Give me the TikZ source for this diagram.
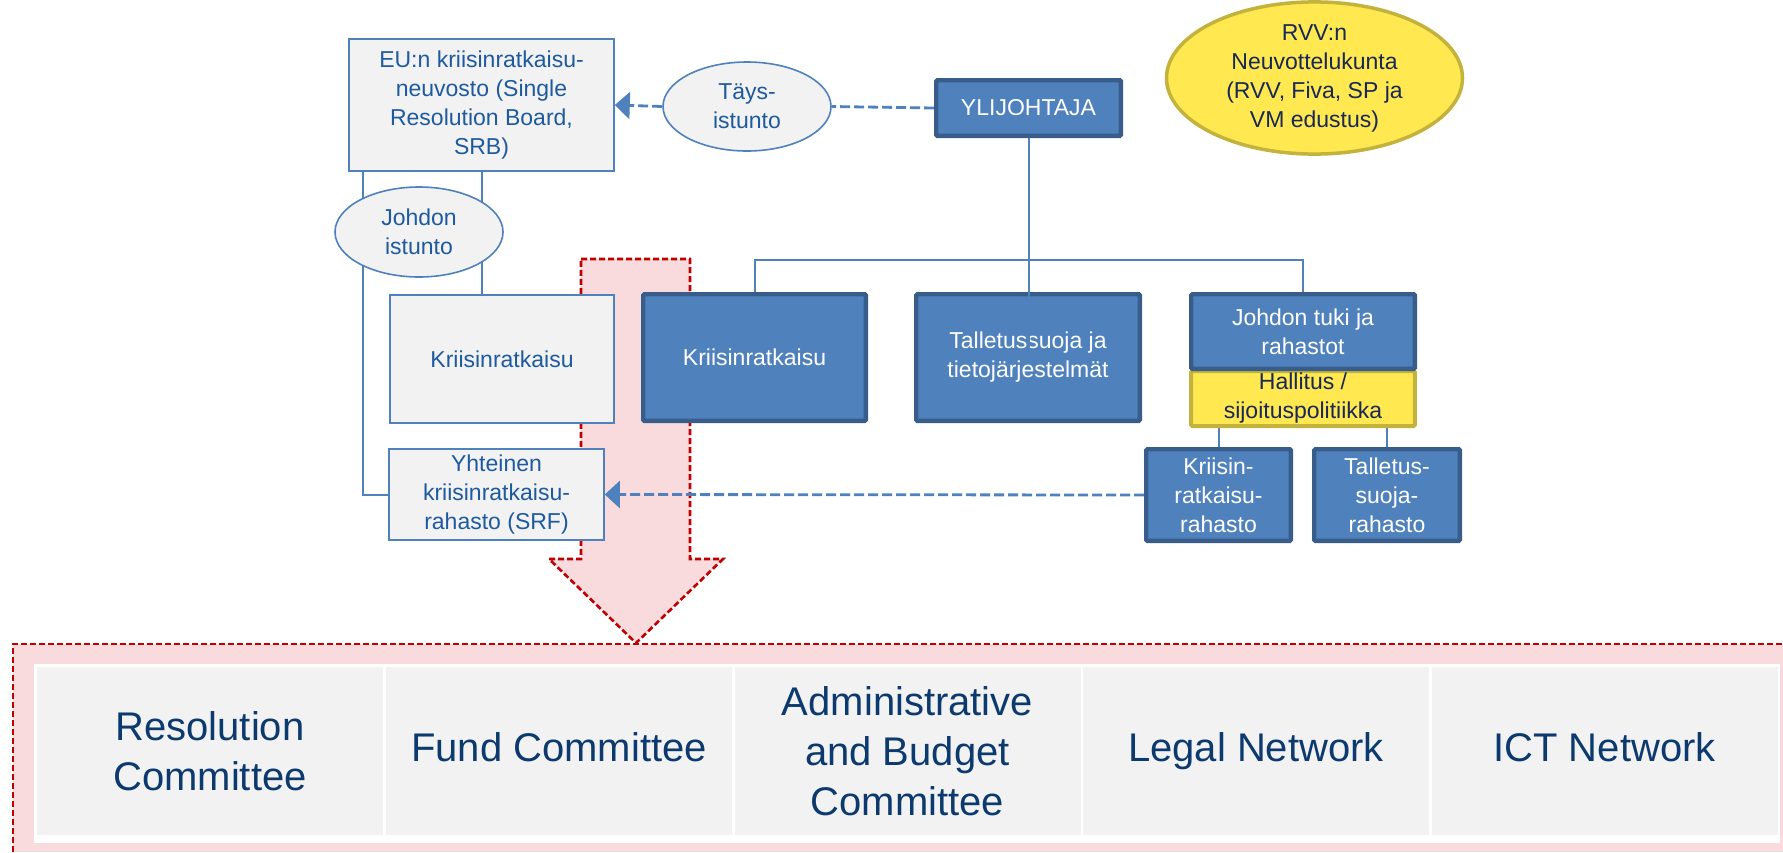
\documentclass[tikz,border=0pt]{standalone}
\usepackage{fontspec}
\setmainfont{Liberation Sans}
\usetikzlibrary{shapes.geometric,arrows.meta,calc}
\pgfdeclarelayer{bg}
\pgfsetlayers{bg,main}
\definecolor{boxblue}{RGB}{79,129,189}
\definecolor{boxdark}{RGB}{56,93,138}
\definecolor{greyfill}{RGB}{242,242,242}
\definecolor{textblue}{RGB}{30,90,160}
\definecolor{navy}{RGB}{12,58,110}
\definecolor{ynavy}{RGB}{25,40,85}
\definecolor{yellowfill}{RGB}{255,232,80}
\definecolor{yellowborder}{RGB}{195,178,60}
\definecolor{pinkfill}{RGB}{249,219,222}
\definecolor{reddash}{RGB}{192,0,0}
\begin{document}
\begin{tikzpicture}[x=0.5pt,y=-0.5pt,
  txt/.style={font=\fontsize{11.5}{14.5}\selectfont, align=center, inner sep=0pt},
  greybox/.style={txt, rectangle, draw=boxblue, line width=0.8pt, fill=greyfill, text=textblue},
  greyell/.style={txt, ellipse, draw=boxblue, line width=0.8pt, fill=greyfill, text=textblue},
  bluebox/.style={txt, rectangle, draw=boxdark, line width=2.2pt, fill=boxblue, text=white, rounded corners=0.6pt},
  yellowbox/.style={txt, rectangle, draw=yellowborder, line width=2pt, fill=yellowfill, text=ynavy, rounded corners=0.6pt},
  conn/.style={draw=boxblue, line width=1pt},
  dconn/.style={draw=boxblue, line width=1.4pt, dash pattern=on 5pt off 2pt},
  tip/.style={-{Triangle[length=7.5pt,width=13.5pt]}},
  reddashed/.style={draw=reddash, line width=1.3pt, dash pattern=on 3pt off 1.5pt},
  cell/.style={rectangle, fill=greyfill, text=navy, font=\fontsize{20}{25}\selectfont, align=center, inner sep=0pt, minimum width=173pt, minimum height=84pt}
]
\useasboundingbox (0,0) rectangle (1783,852);

% nodes
\node[greybox, minimum width=132.5pt, minimum height=66pt] (eu) at (481.5,105)
  {EU:n kriisinratkaisu-\\neuvosto (Single\\Resolution Board,\\SRB)};
\node[greyell, minimum width=84pt, minimum height=44.5pt] (tays) at (747,106.5) {Täys-\\istunto};
\node[bluebox, minimum width=92.3pt, minimum height=27.8pt] (yli) at (1028.5,108) {YLIJOHTAJA};
\node[txt, ellipse, draw=yellowborder, line width=1.75pt, fill=yellowfill, text=ynavy,
  minimum width=148pt, minimum height=69pt] (rvv) at (1314.5,78)
  {RVV:n\\Neuvottelukunta\\(RVV, Fiva, SP ja\\VM edustus)};
\node[greyell, minimum width=84pt, minimum height=45pt] (johdon) at (419,232) {Johdon\\istunto};
\node[greybox, minimum width=112pt, minimum height=64pt] (kr1) at (502,359) {Kriisinratkaisu};
\node[greybox, minimum width=107.5pt, minimum height=45.5pt] (srf) at (496.5,494.5)
  {Yhteinen\\kriisinratkaisu-\\rahasto (SRF)};
\node[bluebox, minimum width=111.3pt, minimum height=63.3pt] (kr2) at (754.5,357.5) {Kriisinratkaisu};
\node[bluebox, minimum width=111.8pt, minimum height=63.3pt] (tall) at (1028,357.5)
  {Talletussuoja ja\\tietojärjestelmät};
\node[yellowbox, minimum width=111.8pt, minimum height=27.5pt] (hal) at (1303,398.5)
  {Hallitus /\\sijoituspolitiikka};
\node[bluebox, minimum width=111.8pt, minimum height=37.3pt] (jt) at (1303,331.5) {Johdon tuki ja\\rahastot};
\node[bluebox, minimum width=72.3pt, minimum height=45.8pt] (krr) at (1218.5,495) {Kriisin-\\ratkaisu-\\rahasto};
\node[bluebox, minimum width=72.8pt, minimum height=45.8pt] (tsr) at (1387,495) {Talletus-\\suoja-\\rahasto};

\begin{pgfonlayer}{bg}
  \fill[white] (0,0) rectangle (1783,852);
  \fill[pinkfill] (13,644) rectangle (1783,852);
  \draw[reddashed] (13,852) -- (13,644) -- (1783,644);
  \fill[pinkfill] (581,259) -- (690,259) -- (690,559) -- (723,559) -- (636,643) -- (549,559) -- (581,559) -- cycle;
  \draw[reddashed] (581,259) -- (690,259) -- (690,559) -- (723,559) -- (636,643) -- (549,559) -- (581,559) -- cycle;
  \fill[white] (34,664) rectangle (1780,843);
  % connectors
  \coordinate (bus) at (1028.5,260);
  \draw[conn] ([xshift=7.5pt]eu.south west) |- (srf.west);
  \draw[conn] ([xshift=67pt]eu.south west) -- ([xshift=67pt]eu.south west |- kr1.north);
  \draw[conn] (kr2.north) |- (bus) -| (jt.north);
  \draw[conn] (krr.north) -- (krr.north |- hal.south);
  \draw[conn] (tsr.north) -- (tsr.north |- hal.south);
  \draw[dconn, tip] (tays.west) -- (eu.east);
  \draw[dconn] (yli.west) -- (tays.east);
  \draw[dconn, tip] (krr.west) -- (srf.east);
\end{pgfonlayer}
\coordinate (trunkend) at (1028.5,360);
\draw[conn] (yli.south) -- (trunkend);

\node[cell] (c1) at (210,751) {Resolution\\Committee};
\node[cell] (c2) at (559,751) {Fund Committee\vphantom{g}};
\node[cell] (c3) at (907.5,751) {Administrative\\and Budget\\Committee};
\node[cell] (c4) at (1256,751) {Legal Network};
\node[cell] (c5) at (1604.5,751) {ICT Network\vphantom{g}};
\end{tikzpicture}
\end{document}
